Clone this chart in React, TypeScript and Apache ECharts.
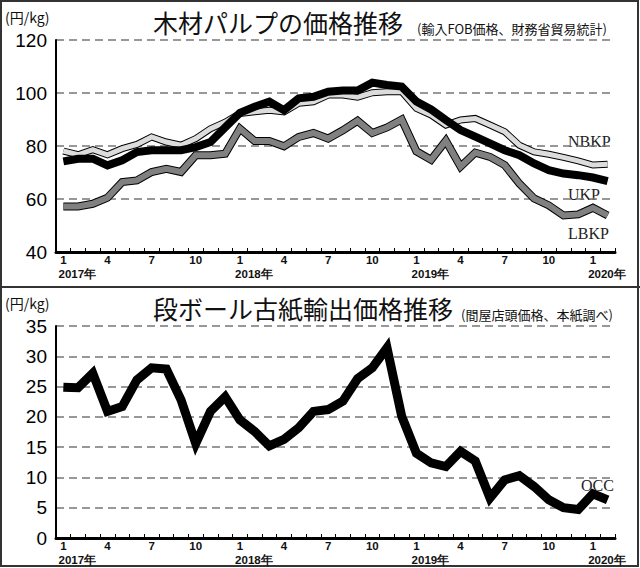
import React, { useEffect, useRef } from "react";
import * as echarts from "echarts";

const categories = [
  "2017/1", "2017/2", "2017/3", "2017/4", "2017/5", "2017/6", "2017/7", "2017/8", "2017/9", "2017/10", "2017/11", "2017/12",
  "2018/1", "2018/2", "2018/3", "2018/4", "2018/5", "2018/6", "2018/7", "2018/8", "2018/9", "2018/10", "2018/11", "2018/12",
  "2019/1", "2019/2", "2019/3", "2019/4", "2019/5", "2019/6", "2019/7", "2019/8", "2019/9", "2019/10", "2019/11", "2019/12",
  "2020/1", "2020/2",
];

const nbkp = [78.1, 76.7, 78.6, 76.7, 79, 80.6, 83.4, 81.5, 80.3, 82.8, 86.5, 89, 92.3, 92.9, 93.5, 92.9, 96.1, 96.7, 99.2, 99.2, 98.4, 100.1, 100.5, 100.5, 94.2, 91.7, 87.9, 89.8, 90.4, 87.9, 85.4, 80.3, 77.8, 76.9, 75.7, 74.4, 72.8, 73.1];
const ukp = [74.2, 75.2, 75.2, 72.7, 74.6, 77.7, 78.4, 78.4, 78.4, 79.6, 81.5, 87, 92.5, 94.8, 96.7, 93.5, 98, 98.6, 100.5, 100.9, 100.9, 103.9, 103, 102.4, 96.8, 93.8, 89.8, 86, 83.5, 81, 78.4, 76.5, 73.4, 70.9, 69.6, 69, 68.1, 66.7];
const lbkp = [57.2, 57.2, 58.2, 60.5, 66.4, 67, 70.2, 71.4, 70.2, 76.5, 76.5, 77.1, 86.6, 81.9, 81.9, 79.9, 83.4, 84.9, 82.8, 85.9, 89.5, 84.9, 87, 90, 78, 74.8, 82, 72.2, 77.5, 75.9, 72.8, 65.8, 60.2, 57.6, 53.8, 54.2, 56.7, 53.8];
const occ = [24.9, 24.8, 27.2, 20.9, 21.7, 26.1, 28.1, 27.9, 22.8, 15.6, 20.9, 23.3, 19.5, 17.6, 15.2, 16.3, 18.2, 20.9, 21.2, 22.6, 26.3, 28.1, 31.4, 20.1, 14, 12.4, 11.8, 14.3, 12.7, 6.6, 9.6, 10.3, 8.5, 6.3, 5, 4.7, 7.3, 6.3];

const pulpTicks = { min: 40, max: 120, interval: 20 };
const occTicks = { min: 0, max: 35, interval: 5 };

const SANS = "'Liberation Sans', Arial, sans-serif";
const CJK = "'Noto Sans CJK JP', 'Noto Sans', sans-serif";
const SERIF = "'Liberation Serif', 'DejaVu Serif', serif";

function makeXAxis(gridIndex: number) {
  return {
    type: "category",
    gridIndex,
    data: categories,
    boundaryGap: true,
    axisLine: { show: true, lineStyle: { color: "#000", width: 3 } },
    axisTick: { show: true, inside: true, length: 4, interval: 0, lineStyle: { color: "#000", width: 1 } },
    axisLabel: {
      interval: (i: number) => i % 3 === 0,
      margin: 1,
      formatter: (v: string) => {
        const [y, m] = v.split("/");
        return m === "1" ? `{m|${m}}\n{y|${y}年}` : `{m|${m}}`;
      },
      rich: {
        m: { fontSize: 11.5, fontWeight: "bold", lineHeight: 14, align: "center", fontFamily: SANS, color: "#111" },
        y: { fontSize: 11.5, fontWeight: "bold", lineHeight: 14, fontFamily: SANS, color: "#111", padding: [0, 0, 0, 28] },
      },
    },
    splitLine: { show: false },
  };
}

function makeYAxis(gridIndex: number, t: { min: number; max: number; interval: number }) {
  return {
    type: "value",
    gridIndex,
    min: t.min,
    max: t.max,
    interval: t.interval,
    axisLine: { show: true, lineStyle: { color: "#000", width: 2 } },
    axisTick: { show: false },
    axisLabel: { fontSize: 19, color: "#000", margin: 9, fontFamily: SANS },
    splitLine: { show: true, lineStyle: { color: "#777", type: [8, 5], width: 1.5 } },
  };
}

function lineSeries(data: number[], xi: number, color: string, width: number) {
  return {
    type: "line",
    xAxisIndex: xi,
    yAxisIndex: xi,
    data,
    symbol: "none",
    silent: true,
    lineStyle: { color, width, join: "miter", miterLimit: 6 },
  };
}

export default function App() {
  const ref = useRef<HTMLDivElement>(null);
  useEffect(() => {
    if (!ref.current) return;
    const chart = echarts.init(ref.current, undefined, { renderer: "svg" });
    const txt = (text: string, x: number, y: number, size: number, font: string, extra: any = {}) => ({
      type: "text",
      x,
      y,
      style: { text, fontSize: size, fontFamily: font, fill: "#111", verticalAlign: "middle", ...extra },
    });
    chart.setOption({
      animation: false,
      backgroundColor: "#fff",
      grid: [
        { left: 56, right: 25, top: 40, height: 212 },
        { left: 56, right: 25, top: 326, height: 212 },
      ],
      xAxis: [makeXAxis(0), makeXAxis(1)],
      yAxis: [makeYAxis(0, pulpTicks), makeYAxis(1, occTicks)],
      series: [
        lineSeries(nbkp, 0, "#000", 7),
        lineSeries(nbkp, 0, "#dcdcdc", 5),
        lineSeries(lbkp, 0, "#000", 8),
        lineSeries(lbkp, 0, "#808080", 6),
        lineSeries(ukp, 0, "#000", 8),
        lineSeries(occ, 1, "#000", 9),
      ],
      graphic: [
        { type: "rect", shape: { x: 1, y: 1, width: 637, height: 565 }, style: { fill: "none", stroke: "#333", lineWidth: 2 } },
        { type: "line", shape: { x1: 0, y1: 287, x2: 640, y2: 287 }, style: { stroke: "#333", lineWidth: 2 } },
        txt("(円/kg)", 5, 17, 14, CJK),
        txt("木材パルプの価格推移", 153, 22, 25, CJK),
        txt("(輸入FOB価格、財務省貿易統計)", 417, 28, 13, CJK),
        txt("(円/kg)", 5, 303, 14, CJK),
        txt("段ボール古紙輸出価格推移", 153, 308, 25, CJK),
        txt("(間屋店頭価格、本紙調べ)", 461, 314, 13, CJK),
        txt("NBKP", 568, 141, 16, SERIF, { fill: "#222" }),
        txt("UKP", 568, 194, 16, SERIF, { fill: "#222" }),
        txt("LBKP", 568, 233, 16, SERIF, { fill: "#222" }),
        txt("OCC", 581, 485, 16, SERIF, { fill: "#222" }),
      ],
    });
    return () => chart.dispose();
  }, []);
  return <div ref={ref} style={{ position: "absolute", left: 0, top: 0, width: 640, height: 568 }} />;
}
